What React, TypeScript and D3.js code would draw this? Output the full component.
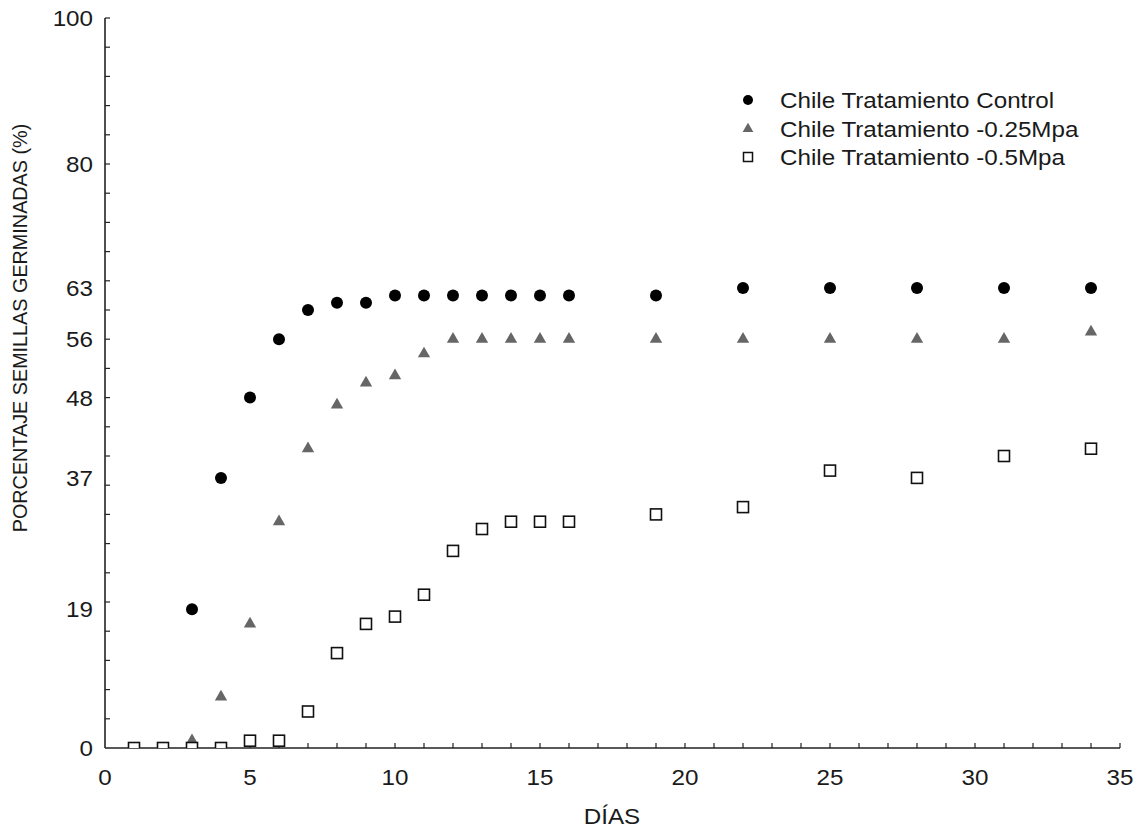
import React from 'react';
import { scaleLinear, symbol, symbolTriangle, range } from 'd3';

// days and germination (%)
const controlDays = [3, 4, 5, 6, 7, 8, 9, 10, 11, 12, 13, 14, 15, 16, 19, 22, 25, 28, 31, 34];
const controlValues = [19, 37, 48, 56, 60, 61, 61, 62, 62, 62, 62, 62, 62, 62, 62, 63, 63, 63, 63, 63];

const mpa025Days = [3, 4, 5, 6, 7, 8, 9, 10, 11, 12, 13, 14, 15, 16, 19, 22, 25, 28, 31, 34];
const mpa025Values = [1, 7, 17, 31, 41, 47, 50, 51, 54, 56, 56, 56, 56, 56, 56, 56, 56, 56, 56, 57];

const mpa05Days = [1, 2, 3, 4, 5, 6, 7, 8, 9, 10, 11, 12, 13, 14, 15, 16, 19, 22, 25, 28, 31, 34];
const mpa05Values = [0, 0, 0, 0, 1, 1, 5, 13, 17, 18, 21, 27, 30, 31, 31, 31, 32, 33, 38, 37, 40, 41];

const yTickLabels = [0, 19, 37, 48, 56, 63, 80, 100];
const xTickLabels = [0, 5, 10, 15, 20, 25, 30, 35];
const legendLabels = [
	'Chile Tratamiento Control',
	'Chile Tratamiento -0.25Mpa',
	'Chile Tratamiento -0.5Mpa',
];

const FONT = '"Liberation Sans", Arial, sans-serif';
const TEXT = '#1a1a1a';

function App() {
	const width = 1147;
	const height = 834;
	const x = scaleLinear().domain([0, 35]).range([105, 1120]);
	const y = scaleLinear().domain([0, 100]).range([748, 18]);

	const tri = symbol().type(symbolTriangle).size(66)();
	const triSmall = symbol().type(symbolTriangle).size(50)();
	const sq = 11;

	const hText = (tx, ty, str, anchor = 'middle', size = 22) => (
		<g transform={`translate(${tx},${ty}) scale(1.1,1)`}>
			<text textAnchor={anchor} fontSize={size} fontFamily={FONT} fill={TEXT}>
				{str}
			</text>
		</g>
	);

	return (
		<svg
			width={width}
			height={height}
			style={{ position: 'absolute', left: 0, top: 0, background: '#fff' }}
		>
			<defs>
				<clipPath id="plot">
					<rect x={x(0)} y={0} width={x(35) - x(0) + 20} height={y(0)} />
				</clipPath>
			</defs>

			{/* axes */}
			<line x1={x(0)} x2={x(35)} y1={y(0)} y2={y(0)} stroke="#222" strokeWidth={1.6} />
			<line x1={x(0)} x2={x(0)} y1={y(0)} y2={y(100)} stroke="#222" strokeWidth={1.6} />
			{range(1, 36).map((d) => (
				<line key={'xt' + d} x1={x(d)} x2={x(d)} y1={y(0)} y2={y(0) - 5} stroke="#222" strokeWidth={1.2} />
			))}
			{range(4, 101, 4).map((d) => (
				<line key={'yt' + d} x1={x(0)} x2={x(0) + 5} y1={y(d)} y2={y(d)} stroke="#222" strokeWidth={1.2} />
			))}
			{xTickLabels.map((d) => (
				<React.Fragment key={'xl' + d}>{hText(x(d), 785, d)}</React.Fragment>
			))}
			{yTickLabels.map((d) => (
				<React.Fragment key={'yl' + d}>{hText(93, y(d) + 8, d, 'end')}</React.Fragment>
			))}
			{hText(612, 824, 'DÍAS')}
			<text
				transform={`translate(27,${y(0) - 420}) rotate(-90)`}
				textAnchor="middle"
				fontSize={19.8}
				fontFamily={FONT}
				fill={TEXT}
			>
				PORCENTAJE SEMILLAS GERMINADAS (%)
			</text>

			{/* points */}
			<g clipPath="url(#plot)">
				{controlDays.map((d, i) => (
					<circle key={'c' + d} cx={x(d)} cy={y(controlValues[i])} r={6} fill="#000" />
				))}
				{mpa025Days.map((d, i) => (
					<path
						key={'t' + d}
						d={tri}
						transform={`translate(${x(d)},${y(mpa025Values[i])})`}
						fill="#666"
					/>
				))}
				{mpa05Days.map((d, i) => (
					<rect
						key={'s' + d}
						x={x(d) - sq / 2}
						y={y(mpa05Values[i]) - sq / 2}
						width={sq}
						height={sq}
						fill="#fff"
						stroke="#111"
						strokeWidth={1.6}
					/>
				))}
			</g>

			{/* legend */}
			<g>
				<circle cx={748} cy={100} r={5} fill="#000" />
				<path d={triSmall} transform="translate(748,129)" fill="#666" />
				<rect x={743.5} y={152.5} width={9} height={9} fill="#fff" stroke="#111" strokeWidth={1.5} />
				{legendLabels.map((l, i) => (
					<React.Fragment key={l}>{hText(780, 108 + i * 28.5, l, 'start')}</React.Fragment>
				))}
			</g>
		</svg>
	);
}

export default App;
